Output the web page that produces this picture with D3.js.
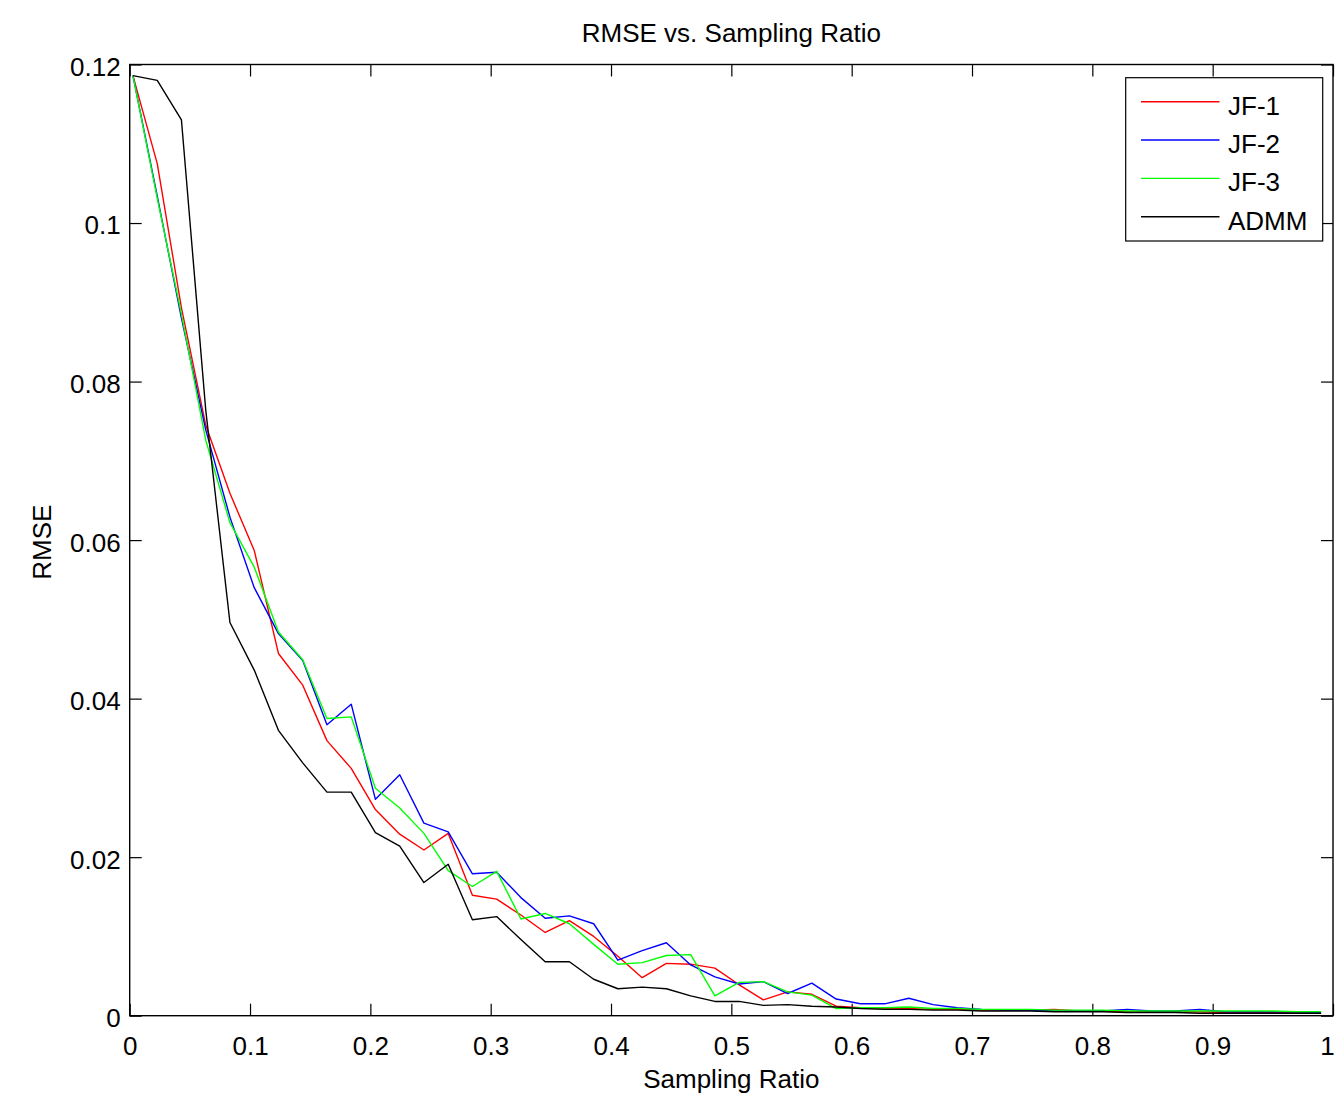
<!DOCTYPE html>
<html>
<head>
<meta charset="utf-8">
<script src="https://cdn.jsdelivr.net/npm/d3@7/dist/d3.min.js"></script>
<style>
  html, body { margin: 0; padding: 0; background: #fff; }
  svg { display: block; }
  text { font-family: "Liberation Sans", Arial, Helvetica, sans-serif; fill: #000; }
</style>
</head>
<body>
<svg id="chart" width="1336" height="1105"></svg>
<script>
// Sampling ratios at which each method was evaluated
const samplingRatio = [
  0.0027, 0.0229, 0.0430, 0.0632, 0.0833, 0.1035, 0.1236, 0.1438, 0.1639, 0.1841,
  0.2042, 0.2244, 0.2445, 0.2647, 0.2848, 0.3050, 0.3251, 0.3453, 0.3654, 0.3856,
  0.4057, 0.4259, 0.4460, 0.4662, 0.4863, 0.5065, 0.5266, 0.5468, 0.5669, 0.5871,
  0.6072, 0.6274, 0.6475, 0.6677, 0.6878, 0.7080, 0.7281, 0.7483, 0.7684, 0.7886,
  0.8087, 0.8289, 0.8490, 0.8692, 0.8893, 0.9095, 0.9296, 0.9498, 0.9699, 0.9901
];

// RMSE per method
const jf1 = [
  0.1186, 0.1075, 0.0893, 0.0745, 0.0659, 0.0587, 0.0457, 0.0417, 0.0347, 0.0312,
  0.0260, 0.0229, 0.0209, 0.0230, 0.0152, 0.0147, 0.0127, 0.0105, 0.0120, 0.0100,
  0.0075, 0.0048, 0.0066, 0.0065, 0.0060, 0.0039, 0.0020, 0.0030, 0.0027, 0.0012,
  0.0010, 0.0009, 0.0009, 0.0008, 0.0008, 0.0007, 0.0007, 0.0007, 0.0008, 0.0006,
  0.0006, 0.0005, 0.0005, 0.0005, 0.0005, 0.0004, 0.0004, 0.0004, 0.0004, 0.0003
];
const jf2 = [
  0.1186, 0.1034, 0.0880, 0.0739, 0.0629, 0.0540, 0.0482, 0.0448, 0.0367, 0.0393,
  0.0273, 0.0304, 0.0243, 0.0232, 0.0179, 0.0181, 0.0149, 0.0123, 0.0126, 0.0116,
  0.0070, 0.0082, 0.0092, 0.0064, 0.0049, 0.0040, 0.0043, 0.0028, 0.0041, 0.0021,
  0.0015, 0.0015, 0.0022, 0.0014, 0.0010, 0.0008, 0.0007, 0.0007, 0.0006, 0.0006,
  0.0006, 0.0008, 0.0006, 0.0006, 0.0008, 0.0005, 0.0005, 0.0005, 0.0005, 0.0004
];
const jf3 = [
  0.1186, 0.1031, 0.0885, 0.0726, 0.0622, 0.0566, 0.0484, 0.0449, 0.0375, 0.0377,
  0.0287, 0.0262, 0.0230, 0.0183, 0.0163, 0.0182, 0.0122, 0.0129, 0.0116, 0.0090,
  0.0065, 0.0067, 0.0076, 0.0077, 0.0025, 0.0042, 0.0043, 0.0030, 0.0026, 0.0009,
  0.0010, 0.0010, 0.0011, 0.0009, 0.0009, 0.0008, 0.0008, 0.0008, 0.0007, 0.0007,
  0.0007, 0.0006, 0.0006, 0.0006, 0.0006, 0.0006, 0.0006, 0.0006, 0.0005, 0.0005
];
const admm = [
  0.1186, 0.1180, 0.1130, 0.0764, 0.0496, 0.0436, 0.0360, 0.0319, 0.0282, 0.0282,
  0.0231, 0.0214, 0.0168, 0.0191, 0.0121, 0.0125, 0.0096, 0.0068, 0.0068, 0.0046,
  0.0034, 0.0036, 0.0034, 0.0025, 0.0018, 0.0018, 0.0013, 0.0014, 0.0012, 0.0011,
  0.0009, 0.0008, 0.0008, 0.0007, 0.0007, 0.0006, 0.0006, 0.0006, 0.0005, 0.0005,
  0.0005, 0.0004, 0.0004, 0.0004, 0.0003, 0.0003, 0.0003, 0.0003, 0.0003, 0.0003
];

const seriesNames = ["JF-1", "JF-2", "JF-3", "ADMM"];
const seriesColors = ["#ff0000", "#0000ff", "#00ff00", "#000000"];
const xTicks = [0, 0.1, 0.2, 0.3, 0.4, 0.5, 0.6, 0.7, 0.8, 0.9, 1];
const yTicks = [0, 0.02, 0.04, 0.06, 0.08, 0.1, 0.12];

(function drawChart() {
  const seriesValues = [jf1, jf2, jf3, admm];
  const series = seriesNames.map((name, k) => ({
    name,
    color: seriesColors[k],
    points: samplingRatio.map((r, i) => ({ x: r, y: seriesValues[k][i] }))
  }));

  // Plot box
  const box = { left: 129.7, right: 1333, top: 64.5, bottom: 1015.7 };
  const fontSize = 26;
  const tickLen = 12;

  const svg = d3.select("#chart");
  svg.append("rect").attr("width", 1336).attr("height", 1105).attr("fill", "#fff");

  const x = d3.scaleLinear().domain([0, 1]).range([box.left, box.right]);
  const y = d3.scaleLinear().domain([0, 0.12]).range([box.bottom, box.top]);

  const fmt = v => (v === 0 ? "0" : d3.format("~g")(v));

  // Axes with inward ticks on all four sides (box style)
  const axisBottom = d3.axisBottom(x).tickValues(xTicks).tickSize(-tickLen).tickFormat(fmt);
  const axisTop = d3.axisTop(x).tickValues(xTicks).tickSize(-tickLen).tickFormat("");
  const axisLeft = d3.axisLeft(y).tickValues(yTicks).tickSize(-tickLen).tickFormat(fmt);
  const axisRight = d3.axisRight(y).tickValues(yTicks).tickSize(-tickLen).tickFormat("");

  function styleAxis(g) {
    g.select(".domain").remove();
    g.selectAll(".tick line").attr("stroke", "#000").attr("stroke-width", 1.2);
    g.selectAll(".tick text")
      .attr("font-size", fontSize)
      .attr("font-family", '"Liberation Sans", Arial, sans-serif')
      .attr("fill", "#000");
  }

  const gx = svg.append("g").attr("transform", `translate(0,${box.bottom})`).call(axisBottom).call(styleAxis);
  gx.selectAll(".tick text").attr("y", 21).attr("dy", "0.71em");
  // keep the last label inside the canvas edge
  gx.selectAll(".tick text").filter(d => d === 1).attr("dx", -6);
  svg.append("g").attr("transform", `translate(0,${box.top})`).call(axisTop).call(styleAxis);
  const gy = svg.append("g").attr("transform", `translate(${box.left},0)`).call(axisLeft).call(styleAxis);
  gy.selectAll(".tick text").attr("x", -9).attr("dy", "0.42em");
  svg.append("g").attr("transform", `translate(${box.right},0)`).call(axisRight).call(styleAxis);

  // Data lines, clipped to the plot box
  svg.append("clipPath").attr("id", "plot-clip")
    .append("rect").attr("x", box.left).attr("y", box.top)
    .attr("width", box.right - box.left).attr("height", box.bottom - box.top);

  const line = d3.line().x(d => x(d.x)).y(d => y(d.y));
  svg.append("g").attr("clip-path", "url(#plot-clip)")
    .selectAll("path.series")
    .data(series)
    .join("path")
    .attr("class", "series")
    .attr("fill", "none")
    .attr("stroke", d => d.color)
    .attr("stroke-width", 1.4)
    .attr("stroke-linejoin", "round")
    .attr("d", d => line(d.points));

  // Box frame
  svg.append("rect")
    .attr("x", box.left).attr("y", box.top)
    .attr("width", box.right - box.left).attr("height", box.bottom - box.top)
    .attr("fill", "none").attr("stroke", "#000").attr("stroke-width", 1.4);

  // Title and axis labels
  svg.append("text")
    .attr("x", (box.left + box.right) / 2).attr("y", 42)
    .attr("text-anchor", "middle").attr("font-size", fontSize)
    .text("RMSE vs. Sampling Ratio");

  svg.append("text")
    .attr("x", (box.left + box.right) / 2).attr("y", 1088)
    .attr("text-anchor", "middle").attr("font-size", fontSize)
    .text("Sampling Ratio");

  svg.append("text")
    .attr("transform", `translate(51,${(box.top + box.bottom) / 2 + 2}) rotate(-90)`)
    .attr("text-anchor", "middle").attr("font-size", fontSize)
    .text("RMSE");

  // Legend
  const lg = { x: 1125.7, y: 77.7, w: 197, h: 163.3 };
  const legend = svg.append("g");
  legend.append("rect")
    .attr("x", lg.x).attr("y", lg.y)
    .attr("width", lg.w).attr("height", lg.h)
    .attr("fill", "#fff").attr("stroke", "#000").attr("stroke-width", 1.2);

  const legendRow = d3.scalePoint().domain(seriesNames).range([101.7, 216.7]);
  const items = legend.selectAll("g.item").data(series).join("g").attr("class", "item")
    .attr("transform", d => `translate(0,${legendRow(d.name)})`);
  items.append("line")
    .attr("x1", 1141).attr("x2", 1219.5)
    .attr("stroke", d => d.color).attr("stroke-width", 1.4);
  items.append("text")
    .attr("x", 1228).attr("y", 13)
    .attr("font-size", fontSize)
    .text(d => d.name);
})();
</script>
</body>
</html>
